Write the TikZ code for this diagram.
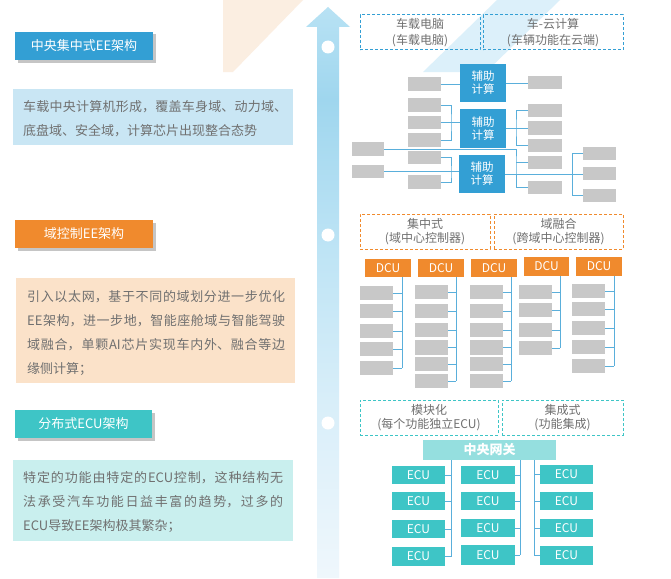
\documentclass[tikz,border=0pt]{standalone}
\usepackage{fontspec}
\setmainfont{Noto Sans CJK SC}
\usetikzlibrary{shadows}
\XeTeXlinebreaklocale "zh"
\XeTeXlinebreakskip=0pt plus 4pt
\definecolor{tblue}{HTML}{339FD4}
\definecolor{torange}{HTML}{F08A2D}
\definecolor{tteal}{HTML}{3EC5C6}
\definecolor{dblue}{HTML}{C9E6F4}
\definecolor{dorange}{HTML}{FBE2C9}
\definecolor{dteal}{HTML}{C9EFEE}
\definecolor{txtgray}{HTML}{707070}
\definecolor{boxgray}{HTML}{C8C8C8}
\definecolor{beige}{HTML}{FBEEE1}
\definecolor{stripeblue}{HTML}{DCF0FA}
\definecolor{lineblue}{HTML}{5AAFDB}
\definecolor{gwteal}{HTML}{95DFDF}
\definecolor{ashA}{HTML}{EFF7FC}
\definecolor{ashB}{HTML}{D8EEF9}
\definecolor{ashC}{HTML}{BEE4F5}
\definecolor{ashD}{HTML}{9FD6EE}
\definecolor{ashE}{HTML}{B8E2F4}
\pgfdeclareverticalshading{arrowshade}{100bp}{color(0bp)=(ashA); color(25bp)=(ashA); color(40.6bp)=(ashB); color(53.7bp)=(ashC); color(66.9bp)=(ashD); color(75bp)=(ashE); color(100bp)=(ashE)}
\newcommand\mkrect[7][]{\node[rectbase,#1,minimum width={(#5)-(#3)},minimum height={(#6)-(#4)}] (#2) at (#3,#4) {#7};}
\begin{document}
\begin{tikzpicture}[x=1pt,y=-1pt,
  rectbase/.style={inner sep=0pt,outer sep=0pt,anchor=north west,draw=none},
  gray/.style={fill=boxgray},
  auxbox/.style={fill=tblue,text=white,align=center,font=\fontsize{11.5}{13}\selectfont},
  dcubox/.style={fill=torange,text=white,font=\fontsize{12}{14}\selectfont},
  ecubox/.style={fill=tteal,text=white,font=\fontsize{12}{14}\selectfont},
  gwbox/.style={fill=gwteal,text=white,font=\fontsize{13}{15}\selectfont\bfseries},
  title/.style={text=white,font=\fontsize{13}{15}\selectfont,drop shadow={shadow xshift=2.5pt,shadow yshift=-2.5pt,fill=black!50,opacity=0.45}},
  dbox/.style={draw,line width=1pt,dash pattern=on 3pt off 2pt,text=txtgray,align=center},
  desctext/.style={inner sep=0pt,anchor=west,align=justify,text=txtgray,font=\fontsize{13}{24}\selectfont},
  conn/.style={draw=lineblue,line width=0.9pt},
  dot/.style={circle,fill=white,minimum size=13pt,inner sep=0pt}]
\useasboundingbox (0,0) rectangle (671,578);
\fill[white] (0,0) rectangle (671,578);
% background decorations
\fill[beige] (223,0) -- (303,0) -- (233,72) -- (223,72) -- cycle;
\fill[stripeblue] (497,0) -- (560,0) -- (486,72) -- (423,72) -- cycle;
% arrow
\shade[shading=arrowshade] (317,578) -- (317,27) -- (306,27) -- (328,7) -- (350,27) -- (339,27) -- (339,578) -- cycle;
\node[dot] (o1) at (328,47) {};
\node[dot] (o2) at (328,235) {};
\node[dot] (o3) at (328,423) {};
% left column
\mkrect[title,fill=tblue]{t1}{15}{32}{153}{60}{中央集中式EE架构}
\mkrect[fill=dblue]{p1}{13}{89}{293}{145}{}
\node[desctext,text width=264pt] (p1t) at (23,119) {\noindent 车载中央计算机形成，覆盖车身域、动力域、\linebreak 底盘域、安全域，计算芯片出现整合态势};
\mkrect[title,fill=torange]{t2}{15}{220}{153}{248}{域控制EE架构}
\mkrect[fill=dorange]{p2}{16}{278}{295}{383}{}
\node[desctext,text width=258pt] (p2t) at (27,333.5) {\noindent 引入以太网，基于不同的域划分进一步优化\linebreak EE架构，进一步地，智能座舱域与智能驾驶\linebreak 域融合，单颗AI芯片实现车内外、融合等边\linebreak 缘侧计算；};
\mkrect[title,fill=tteal]{t3}{15}{410}{152}{438}{分布式ECU架构}
\mkrect[fill=dteal]{p3}{13}{460}{293}{541}{}
\node[desctext,text width=260pt] (p3t) at (23,502) {\noindent 特定的功能由特定的ECU控制，这种结构无\linebreak 法承受汽车功能日益丰富的趋势，过多的\linebreak ECU导致EE架构极其繁杂；};
% ===== section 1
\mkrect[dbox,draw=tblue,font=\fontsize{12}{15.5}\selectfont]{db1}{360}{15}{480}{50}{车载电脑\\(车载电脑)}
\mkrect[dbox,draw=tblue,font=\fontsize{12}{15.5}\selectfont]{db2}{483}{15}{623}{50}{车-云计算\\(车辆功能在云端)}
\mkrect[auxbox]{a1}{460}{64}{506}{102}{辅助\\计算}
\mkrect[auxbox]{a2}{460}{109}{506}{148}{辅助\\计算}
\mkrect[auxbox]{a3}{459}{155}{505}{193}{辅助\\计算}
\mkrect[gray]{L1}{408}{77}{441}{91}{}
\mkrect[gray]{L2}{408}{98}{441}{112}{}
\mkrect[gray]{L3}{408}{116}{441}{129}{}
\mkrect[gray]{L4}{408}{133}{441}{147}{}
\mkrect[gray]{L5}{408}{151}{441}{164}{}
\mkrect[gray]{L6}{408}{175}{441}{189}{}
\mkrect[gray]{FL1}{352}{142}{384}{156}{}
\mkrect[gray]{FL2}{352}{165}{384}{178}{}
\mkrect[gray]{R1}{528}{76}{562}{89}{}
\mkrect[gray]{R2}{528}{104}{562}{117}{}
\mkrect[gray]{R3}{528}{121}{562}{135}{}
\mkrect[gray]{R4}{528}{139}{562}{152}{}
\mkrect[gray]{R5}{528}{156}{562}{169}{}
\mkrect[gray]{R6}{528}{181}{562}{194}{}
\mkrect[gray]{FR1}{583}{147}{616}{160}{}
\mkrect[gray]{FR2}{583}{167}{616}{180}{}
\mkrect[gray]{FR3}{583}{189}{616}{202}{}
\coordinate (xb1) at (451,0);
\coordinate (xb2) at (516,0);
\coordinate (xb3) at (572,0);
\draw[conn] (L1.east) -- (L1.east -| a1.west);
\draw[conn] (a1.east) -- (a1.east -| R1.west);
\draw[conn] (L2.east) -| (xb1 |- L3.east) |- (L4.east);
\draw[conn] (L3.east) -- (L3.east -| a2.west);
\draw[conn] (a2.east) -- (a2.east -| R3.west);
\draw[conn] (R2.west) -| (xb2 |- R3.west) |- (R4.west);
\draw[conn] (FL1.east) -| (xb2 |- R5.west) |- (R6.west);
\draw[conn] (R5.west) -- (R5.west -| xb2);
\draw[conn] (L5.east) -| (xb1 |- a3.west) |- (L6.east);
\draw[conn] (FL2.east) -- (FL2.east -| a3.west);
\draw[conn] (a3.east) -- (a3.east -| FR2.west);
\draw[conn] (FR1.west) -| (xb3 |- FR2.west) |- (FR3.west);
% ===== section 2
\mkrect[dbox,draw=torange,font=\fontsize{12}{14}\selectfont]{db3}{360}{214}{490}{249}{集中式\\(域中心控制器)}
\mkrect[dbox,draw=torange,font=\fontsize{12}{14}\selectfont]{db4}{494}{214}{623}{249}{域融合\\(跨域中心控制器)}
\mkrect[dcubox]{d1}{365}{259}{411}{277}{DCU}
\mkrect[dcubox]{d2}{418}{259}{464}{277}{DCU}
\mkrect[dcubox]{d3}{471}{259}{517}{277}{DCU}
\mkrect[dcubox]{d4}{524}{257}{569}{276}{DCU}
\mkrect[dcubox]{d5}{576}{257}{622}{276}{DCU}
% col 1
\mkrect[gray]{c11}{360}{286}{393}{300}{}
\mkrect[gray]{c12}{360}{304}{393}{318}{}
\mkrect[gray]{c13}{360}{324}{393}{338}{}
\mkrect[gray]{c14}{360}{342}{393}{356}{}
\mkrect[gray]{c15}{360}{361}{393}{375}{}
% col 2
\mkrect[gray]{c21}{415}{285}{448}{299}{}
\mkrect[gray]{c22}{415}{304}{448}{318}{}
\mkrect[gray]{c23}{415}{323}{448}{337}{}
\mkrect[gray]{c24}{415}{340}{448}{355}{}
\mkrect[gray]{c25}{415}{357}{448}{371}{}
\mkrect[gray]{c26}{415}{374}{448}{388}{}
% col 3
\mkrect[gray]{c31}{470}{285}{503}{299}{}
\mkrect[gray]{c32}{470}{304}{503}{318}{}
\mkrect[gray]{c33}{470}{323}{503}{337}{}
\mkrect[gray]{c34}{470}{340}{503}{355}{}
\mkrect[gray]{c35}{470}{357}{503}{371}{}
\mkrect[gray]{c36}{470}{374}{503}{388}{}
% col 4
\mkrect[gray]{c41}{519}{285}{552}{299}{}
\mkrect[gray]{c42}{519}{303}{552}{317}{}
\mkrect[gray]{c43}{519}{323}{552}{337}{}
\mkrect[gray]{c44}{519}{341}{552}{355}{}
% col 5
\mkrect[gray]{c51}{572}{284}{605}{298}{}
\mkrect[gray]{c52}{572}{302}{605}{316}{}
\mkrect[gray]{c53}{572}{321}{605}{335}{}
\mkrect[gray]{c54}{572}{340}{605}{354}{}
\mkrect[gray]{c55}{572}{359}{605}{373}{}
\coordinate (k1) at (402,0);
\coordinate (k2) at (456,0);
\coordinate (k3) at (511,0);
\coordinate (k4) at (560,0);
\coordinate (k5) at (614,0);
\draw[conn] (k1 |- d1.south) -- (k1 |- c15.east);
\foreach \i in {1,...,5} {\draw[conn] (c1\i.east) -- (c1\i.east -| k1);}
\draw[conn] (k2 |- d2.south) -- (k2 |- c26.east);
\foreach \i in {1,...,6} {\draw[conn] (c2\i.east) -- (c2\i.east -| k2);}
\draw[conn] (k3 |- d3.south) -- (k3 |- c36.east);
\foreach \i in {1,...,6} {\draw[conn] (c3\i.east) -- (c3\i.east -| k3);}
\draw[conn] (k4 |- d4.south) -- (k4 |- c44.east);
\foreach \i in {1,...,4} {\draw[conn] (c4\i.east) -- (c4\i.east -| k4);}
\draw[conn] (k5 |- d5.south) -- (k5 |- c55.east);
\foreach \i in {1,...,5} {\draw[conn] (c5\i.east) -- (c5\i.east -| k5);}
% ===== section 3
\mkrect[dbox,draw=tteal,font=\fontsize{12}{14}\selectfont]{db5}{360}{400}{498}{435}{模块化\\(每个功能独立ECU)}
\mkrect[dbox,draw=tteal,font=\fontsize{12}{14}\selectfont]{db6}{502}{400}{623}{435}{集成式\\(功能集成)}
\mkrect[gwbox]{gw}{423}{440}{556}{460}{中央网关}
\mkrect[ecubox]{e11}{392}{466}{445}{484}{ECU}
\mkrect[ecubox]{e12}{392}{492}{445}{510}{ECU}
\mkrect[ecubox]{e13}{392}{520}{445}{538}{ECU}
\mkrect[ecubox]{e14}{392}{547}{445}{566}{ECU}
\mkrect[ecubox]{e21}{461}{466}{515}{484}{ECU}
\mkrect[ecubox]{e22}{461}{492}{515}{510}{ECU}
\mkrect[ecubox]{e23}{461}{519}{515}{537}{ECU}
\mkrect[ecubox]{e24}{461}{545}{515}{565}{ECU}
\mkrect[ecubox]{e31}{540}{465}{593}{484}{ECU}
\mkrect[ecubox]{e32}{540}{492}{593}{510}{ECU}
\mkrect[ecubox]{e33}{540}{519}{593}{537}{ECU}
\mkrect[ecubox]{e34}{540}{546}{593}{565}{ECU}
\coordinate (m1) at (451,0);
\coordinate (m2) at (520,0);
\coordinate (m3) at (534,0);
\draw[conn] (m1 |- gw.south) -- (m1 |- e14.east);
\foreach \i in {1,...,4} {\draw[conn] (e1\i.east) -- (e1\i.east -| m1);}
\draw[conn] (m2 |- gw.south) -- (m2 |- e24.east);
\foreach \i in {1,...,4} {\draw[conn] (e2\i.east) -- (e2\i.east -| m2);}
\draw[conn] (m3 |- gw.south) -- (m3 |- e34.west);
\foreach \i in {1,...,4} {\draw[conn] (e3\i.west) -- (e3\i.west -| m3);}
\end{tikzpicture}
\end{document}
